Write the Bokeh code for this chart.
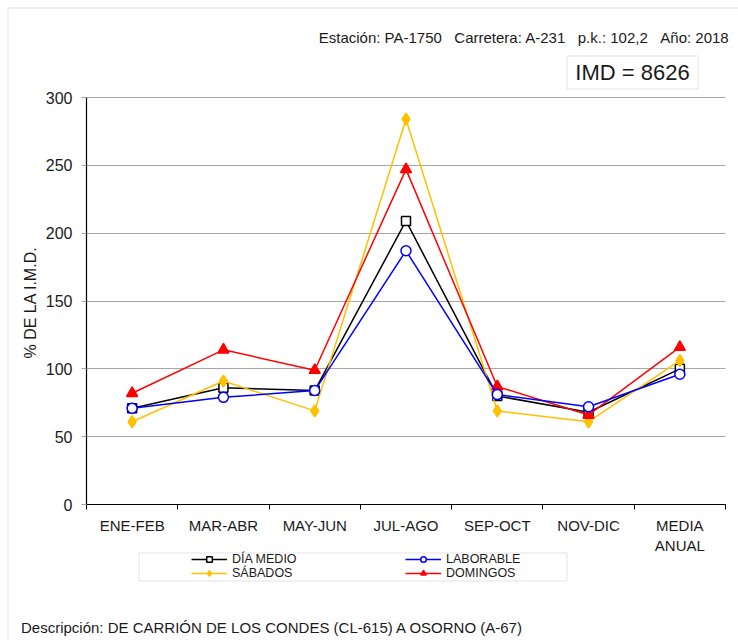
import math
from bokeh.plotting import figure
from bokeh.models import (Range1d, FixedTicker, Legend, LegendItem, Label,
                          BoxAnnotation)
from bokeh.embed import file_html
from bokeh.resources import INLINE

# ---- data ----
periodos = ["ENE-FEB", "MAR-ABR", "MAY-JUN", "JUL-AGO", "SEP-OCT", "NOV-DIC", "MEDIA\nANUAL"]
dia_medio = [71, 86, 84, 209, 80, 68, 100]
laborable = [71, 79, 84, 187, 81, 72, 96]
sabados = [61, 91, 69, 284, 69, 61, 106]
domingos = [82, 114, 99, 247, 87, 66, 116]
y_ticks = [0, 50, 100, 150, 200, 250, 300]

estacion = "PA-1750"
carretera = "A-231"
pk = "102,2"
anio = "2018"
imd = 8626
descripcion = "DE CARRIÓN DE LOS CONDES (CL-615) A OSORNO (A-67)"

FONT = "Liberation Sans"
TXT = "#1a1a1a"
GRID = "#a6a6a6"
FRAME = "#a0a0a0"

series = [
    ("DÍA MEDIO", dia_medio, "black", "square", "white", 9),
    ("SÁBADOS", sabados, "#ffc000", "diamond", "#ffc000", 12),
    ("DOMINGOS", domingos, "#ff0000", "triangle", "#ff0000", 11),
    ("LABORABLE", laborable, "#0000ff", "circle", "white", 10),
]
n = len(periodos)
xs = [i + 0.5 for i in range(n)]
y_max = y_ticks[-1]

# ---- page geometry (pixels) ----
W, H = 738, 640
PL, PR, PT, PB = 86, 725, 97, 504      # plot area: left, right, top (=300), bottom (=0)
kx = (PR - PL) / n
ky = (PB - PT) / y_max
x_range = Range1d(-PL / kx, n + (W - PR) / kx)
y_range = Range1d(-(H - PB) / ky, y_max + PT / ky)

p = figure(width=W, height=H, output_backend="svg", toolbar_location=None,
           x_range=x_range, y_range=y_range,
           min_border=0, min_border_left=0, min_border_right=0,
           min_border_top=0, min_border_bottom=0)
p.outline_line_color = None
p.background_fill_color = "white"
p.border_fill_color = "white"


def sy(abs_y):
    return H - abs_y


# x axis: drawn at y = 0 inside the frame, labels at category centres,
# ticks at the category boundaries
xa = p.xaxis[0]
xa.fixed_location = 0
xa.bounds = (0, n)
xa.ticker = FixedTicker(ticks=xs, minor_ticks=list(range(n + 1)))
xa.major_label_overrides = {x: lab for x, lab in zip(xs, periodos)}
xa.major_tick_line_color = None
xa.minor_tick_line_color = "black"
xa.minor_tick_out = 5
xa.minor_tick_in = 0
xa.axis_line_color = "black"
xa.axis_line_width = 1.2
xa.major_label_text_font = FONT
xa.major_label_text_font_size = "15px"
xa.major_label_text_color = TXT
xa.major_label_standoff = 6

ya = p.yaxis[0]
ya.fixed_location = 0
ya.bounds = (0, y_max)
ya.ticker = FixedTicker(ticks=y_ticks, minor_ticks=[])
ya.major_tick_out = 5
ya.major_tick_in = 0
ya.major_tick_line_color = GRID
ya.axis_line_color = "black"
ya.axis_line_width = 1.2
ya.major_label_text_font = FONT
ya.major_label_text_font_size = "16px"
ya.major_label_text_color = TXT
ya.major_label_standoff = 9

p.xgrid.grid_line_color = None
g = p.ygrid[0]
g.grid_line_color = GRID
g.grid_line_width = 1
g.bounds = (y_ticks[1], y_max)
if "cross_bounds" in g.properties():
    g.cross_bounds = (0, n)
else:
    g.grid_line_color = None
    p.segment(x0=[0] * (len(y_ticks) - 1), x1=[n] * (len(y_ticks) - 1),
              y0=y_ticks[1:], y1=y_ticks[1:], line_color=GRID, line_width=1)

# y axis title
p.add_layout(Label(x=30, y=sy(302), x_units="screen", y_units="screen",
                   text="% DE LA I.M.D.", angle=math.pi / 2,
                   text_align="center", text_baseline="middle",
                   text_font=FONT, text_font_size="16px", text_color=TXT))

items = {}
for name, vals, col, mk, fill, sz in series:
    ln = p.line(xs, vals, line_color=col, line_width=1.5)
    sc = p.scatter(xs, vals, marker=mk, size=sz, line_color=col,
                   fill_color=fill, line_width=1.5)
    items[name] = LegendItem(label=name, renderers=[ln, sc])

# legend with its frame
p.add_layout(BoxAnnotation(left=138.5, right=566.5, top=sy(552.5), bottom=sy(580.5),
                           left_units="screen", right_units="screen",
                           top_units="screen", bottom_units="screen",
                           fill_alpha=0, line_color=FRAME, line_width=1))
legend = Legend(items=[items["DÍA MEDIO"], items["LABORABLE"],
                       items["SÁBADOS"], items["DOMINGOS"]],
                orientation="horizontal", ncols=2,
                location=(191, sy(580)), padding=0, margin=0, spacing=0,
                glyph_width=36, glyph_height=14, label_height=14,
                label_width=173, label_standoff=5,
                label_text_font=FONT, label_text_font_size="12.5px",
                label_text_color=TXT,
                border_line_color=None, background_fill_alpha=0)
p.add_layout(legend, "center")

# outer frame (left and top edges visible)
p.add_layout(BoxAnnotation(left=7.5, right=W + 50, top=sy(7.5), bottom=-50,
                           left_units="screen", right_units="screen",
                           top_units="screen", bottom_units="screen",
                           fill_alpha=0, line_color=FRAME, line_width=1))

# header
sp = "\u00a0\u00a0\u00a0"
header = f"Estación: {estacion}{sp}Carretera: {carretera}{sp}p.k.: {pk}{sp}Año: {anio}"
p.add_layout(Label(x=729, y=sy(37), x_units="screen", y_units="screen",
                   text=header, text_align="right", text_baseline="middle",
                   text_font=FONT, text_font_size="15px", text_color=TXT))

# IMD box
p.add_layout(BoxAnnotation(left=566.5, right=697.5, top=sy(55.5), bottom=sy(88.5),
                           left_units="screen", right_units="screen",
                           top_units="screen", bottom_units="screen",
                           fill_alpha=0, line_color=FRAME, line_width=1))
p.add_layout(Label(x=632, y=sy(72), x_units="screen", y_units="screen",
                   text=f"IMD = {imd}", text_align="center", text_baseline="middle",
                   text_font=FONT, text_font_size="22px", text_color=TXT))

# description
p.add_layout(Label(x=20.5, y=sy(627), x_units="screen", y_units="screen",
                   text=f"Descripción: {descripcion}", text_align="left",
                   text_baseline="middle",
                   text_font=FONT, text_font_size="15px", text_color=TXT))

open("out.html", "w").write(file_html(p, INLINE))
